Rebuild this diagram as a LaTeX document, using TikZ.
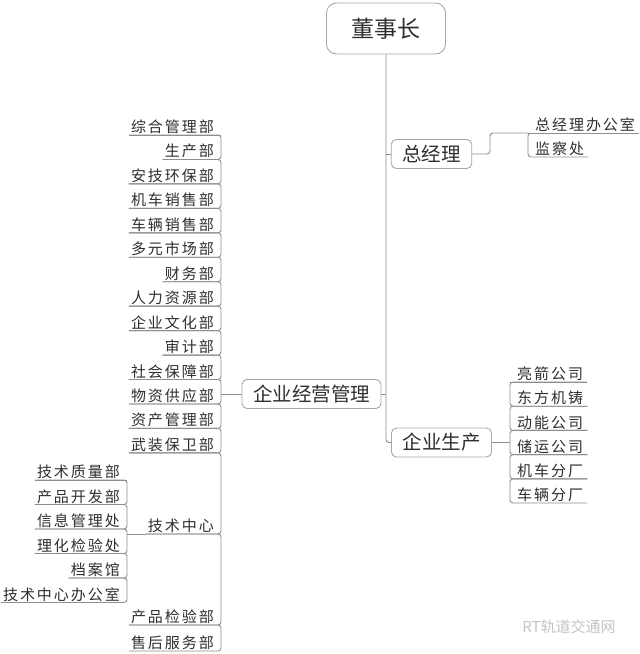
\documentclass[tikz,border=0pt]{standalone}
\usepackage{fontspec}
\newfontfamily\cjk{Noto Sans CJK SC}
\newfontfamily\cjkspaced[LetterSpace=13]{Noto Sans CJK SC}
\definecolor{txtgray}{HTML}{2E2E2E}
\definecolor{wiregray}{HTML}{8E8E8E}
\definecolor{framegray}{HTML}{A8A8A8}
\definecolor{wmgray}{HTML}{C4C4C4}
\tikzset{
  wire/.style={draw=wiregray, line width=0.9pt, rounded corners=3pt},
  topic/.style={draw=framegray, line width=0.9pt, rounded corners=5pt, text=txtgray,
    minimum height=29pt, inner xsep=11pt, inner ysep=2pt, font=\cjk\fontsize{19.5}{22}\selectfont},
  chairbox/.style={topic, rounded corners=10pt, minimum width=119pt, minimum height=51pt,
    font=\cjk\fontsize{23}{26}\selectfont},
  subl/.style={anchor=south east, inner xsep=2pt, inner ysep=1pt, text=txtgray,
    font=\cjkspaced\fontsize{15}{17}\selectfont},
  subr/.style={subl, anchor=south west, inner xsep=4pt}
}
\begin{document}
\begin{tikzpicture}[x=1pt,y=-1pt]
  \useasboundingbox (0,0) rectangle (640,654);
  % bracket lines
  \coordinate (lb) at (221,0);
  \coordinate (tb) at (127,0);
  \coordinate (pb) at (510,0);
  \coordinate (gb) at (528,0);
  \coordinate (gk) at (490,0);
  % main topics
  \node[chairbox] (dsz) at (386,28.5) {董事长};
  \node[topic] (zjl) at (431.5,154) {总经理};
  \node[topic] (qyjy) at (311.5,394) {企业经营管理};
  \node[topic] (qysc) at (441.5,442.5) {企业生产};
  % under 总经理
  \node[subr] (zjb) at (531,133) {总经理办公室};
  \node[subr] (jcc) at (531,157) {监察处};
  % under 企业生产
  \node[subr] (ljgs) at (513,382) {亮箭公司};
  \node[subr] (dfjz) at (513,406.2) {东方机铸};
  \node[subr] (dngs) at (513,430.4) {动能公司};
  \node[subr] (cygs) at (513,454.6) {储运公司};
  \node[subr] (jcfc) at (513,478.8) {机车分厂};
  \node[subr] (clfc) at (513,503) {车辆分厂};
  % under 企业经营管理
  \node[subl] (zhgl) at (216,135) {综合管理部};
  \node[subl] (scb) at (216,159.45) {生产部};
  \node[subl] (ajhb) at (216,183.9) {安技环保部};
  \node[subl] (jcxs) at (216,208.35) {机车销售部};
  \node[subl] (clxs) at (216,232.8) {车辆销售部};
  \node[subl] (dysc) at (216,257.25) {多元市场部};
  \node[subl] (cwb) at (216,281.7) {财务部};
  \node[subl] (rlzy) at (216,306.15) {人力资源部};
  \node[subl] (qywh) at (216,330.6) {企业文化部};
  \node[subl] (sjb) at (216,355.05) {审计部};
  \node[subl] (shbz) at (216,379.5) {社会保障部};
  \node[subl] (wzgy) at (216,403.95) {物资供应部};
  \node[subl] (zcgl) at (216,428.4) {资产管理部};
  \node[subl] (wzbw) at (216,452.85) {武装保卫部};
  \node[subl] (jszx) at (216,534) {技术中心};
  \node[subl] (cpjy) at (216,625) {产品检验部};
  \node[subl] (shfw) at (216,651) {售后服务部};
  % under 技术中心
  \node[subl] (jszl) at (122,480) {技术质量部};
  \node[subl] (cpkf) at (122,504.5) {产品开发部};
  \node[subl] (xxgl) at (122,529) {信息管理处};
  \node[subl] (lhjy) at (122,553.5) {理化检验处};
  \node[subl] (dag) at (122,578) {档案馆};
  \node[subl] (jsbgs) at (122,602.5) {技术中心办公室};
  % watermark
  \node[text=wmgray, font=\cjk\fontsize{15}{17}\selectfont] (wm) at (569,627) {RT轨道交通网};
  \begin{scope}[wire]
    % trunk
    \draw (dsz.south) |- (qysc.west);
    \draw (dsz.south |- zjl.west) -- (zjl.west);
    \draw (qyjy.east) -- (qyjy.east -| dsz.south);
    % 总经理
    \draw (zjl.east) -- (zjl.east -| gk) |- (zjb.south west -| gb);
    \draw (zjb.south east) -- (zjb.south west -| gb);
    \draw (zjb.south west) -- (zjb.south west -| gb) -- (jcc.south west -| gb) -- (jcc.south east);
    % 企业生产
    \draw (qysc.east) -- (qysc.east -| pb);
    \draw (ljgs.south east) -- (ljgs.south west -| pb);
    \draw (ljgs.south east) -- (ljgs.south west -| pb) -- (dfjz.south west -| pb) -- (dfjz.south east);
    \draw (dfjz.south east) -- (dfjz.south west -| pb) -- (dngs.south west -| pb) -- (dngs.south east);
    \draw (dngs.south east) -- (dngs.south west -| pb) -- (cygs.south west -| pb) -- (cygs.south east);
    \draw (cygs.south east) -- (cygs.south west -| pb) -- (jcfc.south west -| pb) -- (jcfc.south east);
    \draw (jcfc.south east) -- (jcfc.south west -| pb) -- (clfc.south west -| pb) -- (clfc.south east);
    % 企业经营管理
    \draw (qyjy.west) -- (qyjy.west -| lb);
    \draw (zhgl.south west) -- (zhgl.south west -| lb);
    \draw (zhgl.south west) -- (zhgl.south west -| lb) -- (scb.south west -| lb) -- (scb.south west);
    \draw (scb.south west) -- (scb.south west -| lb) -- (ajhb.south west -| lb) -- (ajhb.south west);
    \draw (ajhb.south west) -- (ajhb.south west -| lb) -- (jcxs.south west -| lb) -- (jcxs.south west);
    \draw (jcxs.south west) -- (jcxs.south west -| lb) -- (clxs.south west -| lb) -- (clxs.south west);
    \draw (clxs.south west) -- (clxs.south west -| lb) -- (dysc.south west -| lb) -- (dysc.south west);
    \draw (dysc.south west) -- (dysc.south west -| lb) -- (cwb.south west -| lb) -- (cwb.south west);
    \draw (cwb.south west) -- (cwb.south west -| lb) -- (rlzy.south west -| lb) -- (rlzy.south west);
    \draw (rlzy.south west) -- (rlzy.south west -| lb) -- (qywh.south west -| lb) -- (qywh.south west);
    \draw (qywh.south west) -- (qywh.south west -| lb) -- (sjb.south west -| lb) -- (sjb.south west);
    \draw (sjb.south west) -- (sjb.south west -| lb) -- (shbz.south west -| lb) -- (shbz.south west);
    \draw (shbz.south west) -- (shbz.south west -| lb) -- (wzgy.south west -| lb) -- (wzgy.south west);
    \draw (wzgy.south west) -- (wzgy.south west -| lb) -- (zcgl.south west -| lb) -- (zcgl.south west);
    \draw (zcgl.south west) -- (zcgl.south west -| lb) -- (wzbw.south west -| lb) -- (wzbw.south west);
    \draw (wzbw.south west) -- (wzbw.south west -| lb) -- (jszx.south west -| lb) -- (jszx.south west);
    \draw (jszx.south west) -- (jszx.south west -| lb) -- (cpjy.south west -| lb) -- (cpjy.south west);
    \draw (cpjy.south west) -- (cpjy.south west -| lb) -- (shfw.south west -| lb) -- (shfw.south west);
    % 技术中心
    \draw (jszx.south west) -- (jszx.south west -| tb);
    \draw (jszl.south west) -- (jszl.south west -| tb);
    \draw (jszl.south west) -- (jszl.south west -| tb) -- (cpkf.south west -| tb) -- (cpkf.south west);
    \draw (cpkf.south west) -- (cpkf.south west -| tb) -- (xxgl.south west -| tb) -- (xxgl.south west);
    \draw (xxgl.south west) -- (xxgl.south west -| tb) -- (lhjy.south west -| tb) -- (lhjy.south west);
    \draw (lhjy.south west) -- (lhjy.south west -| tb) -- (dag.south west -| tb) -- (dag.south west);
    \draw (dag.south west) -- (dag.south west -| tb) -- (jsbgs.south west -| tb) -- (jsbgs.south west);
  \end{scope}
\end{tikzpicture}
\end{document}
